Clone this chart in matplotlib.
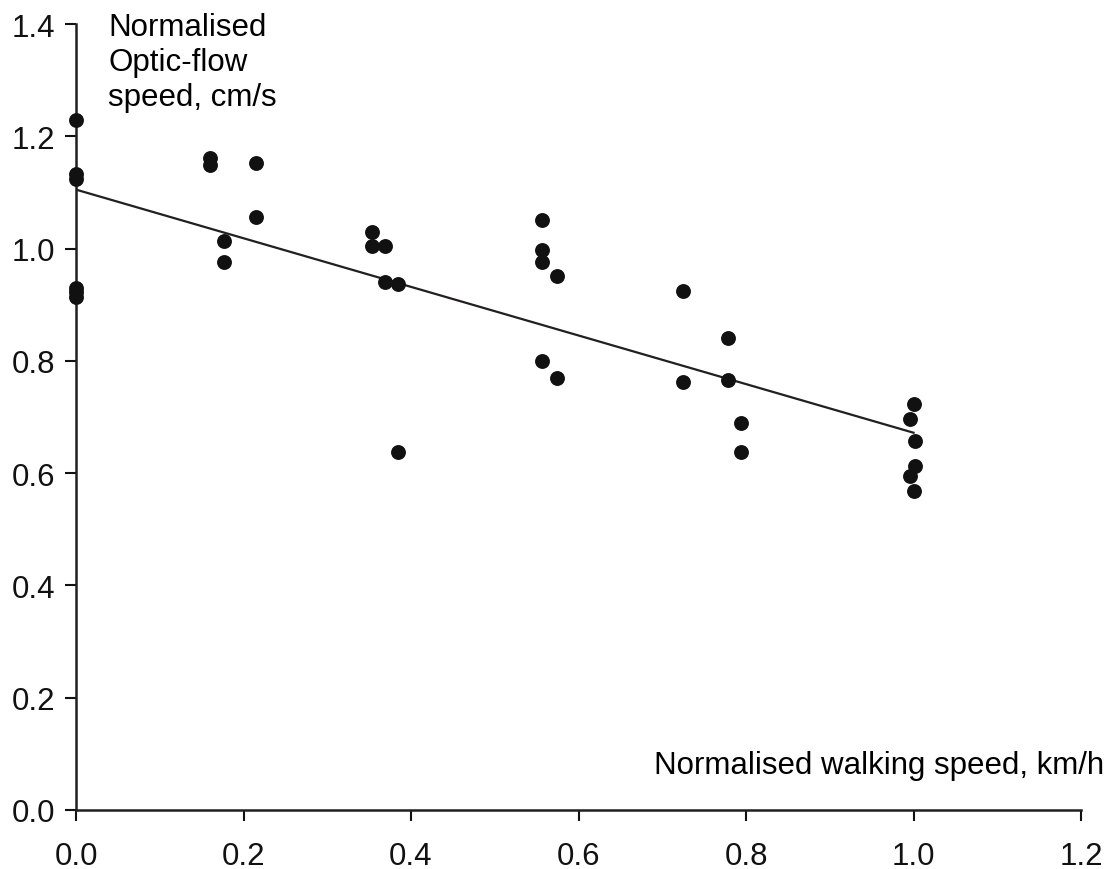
import matplotlib
matplotlib.use("Agg")
import matplotlib.pyplot as plt
import numpy as np

plt.rcParams['font.family'] = ['Liberation Sans', 'DejaVu Sans']

walk_speed = [0.0, 0.0, 0.0, 0.0, 0.0, 0.0,
              0.160, 0.160, 0.177, 0.177, 0.215, 0.215,
              0.353, 0.353, 0.369, 0.369, 0.384, 0.384,
              0.556, 0.556, 0.556, 0.574, 0.556, 0.574,
              0.725, 0.725, 0.779, 0.779, 0.794, 0.794,
              1.000, 0.996, 1.002, 1.002, 0.996, 1.000]
flow_speed = [1.229, 1.133, 1.124, 0.930, 0.922, 0.914,
              1.161, 1.149, 1.014, 0.976, 1.153, 1.056,
              1.030, 1.005, 1.005, 0.940, 0.937, 0.638,
              1.051, 0.998, 0.976, 0.951, 0.800, 0.770,
              0.924, 0.762, 0.841, 0.766, 0.689, 0.638,
              0.723, 0.697, 0.657, 0.613, 0.595, 0.568]
trend_x = [0.0, 1.0]
trend_y = [1.105, 0.672]

x_ticks = [0.0, 0.2, 0.4, 0.6, 0.8, 1.0, 1.2]
y_ticks = [0.0, 0.2, 0.4, 0.6, 0.8, 1.0, 1.2, 1.4]

fig = plt.figure(figsize=(11.12, 8.70), dpi=100)
ax = fig.add_axes([76/1112, 1-811/870, (1081-76)/1112, (811-25)/870])

ax.plot(trend_x, trend_y, color='#231f20', lw=1.6, zorder=2)
ax.scatter(walk_speed, flow_speed, s=115, color='#111111', zorder=3, clip_on=False, linewidths=0)

ax.set_xlim(0, 1.2)
ax.set_ylim(0, 1.4)
ax.set_xticks(x_ticks)
ax.set_yticks(y_ticks)
ax.set_xticklabels([f"{v:.1f}" for v in x_ticks])
ax.set_yticklabels([f"{v:.1f}" for v in y_ticks])
ax.tick_params(axis='both', direction='out', length=8, width=1.5, labelsize=22.5, colors='#111111')
ax.tick_params(axis='x', pad=14)
ax.tick_params(axis='y', pad=7)
for s in ['top', 'right']:
    ax.spines[s].set_visible(False)
for s in ['left', 'bottom']:
    ax.spines[s].set_linewidth(1.8)
    ax.spines[s].set_color('#231f20')

fig.text(108/1112, 1-13/870, "Normalised\nOptic-flow\nspeed, cm/s", ha='left', va='top',
         fontsize=22.5, linespacing=1.22)
fig.text(1104/1112, 1-766/870, "Normalised walking speed, km/h", ha='right', va='center',
         fontsize=22.5)

fig.savefig("out.png", dpi=100)
